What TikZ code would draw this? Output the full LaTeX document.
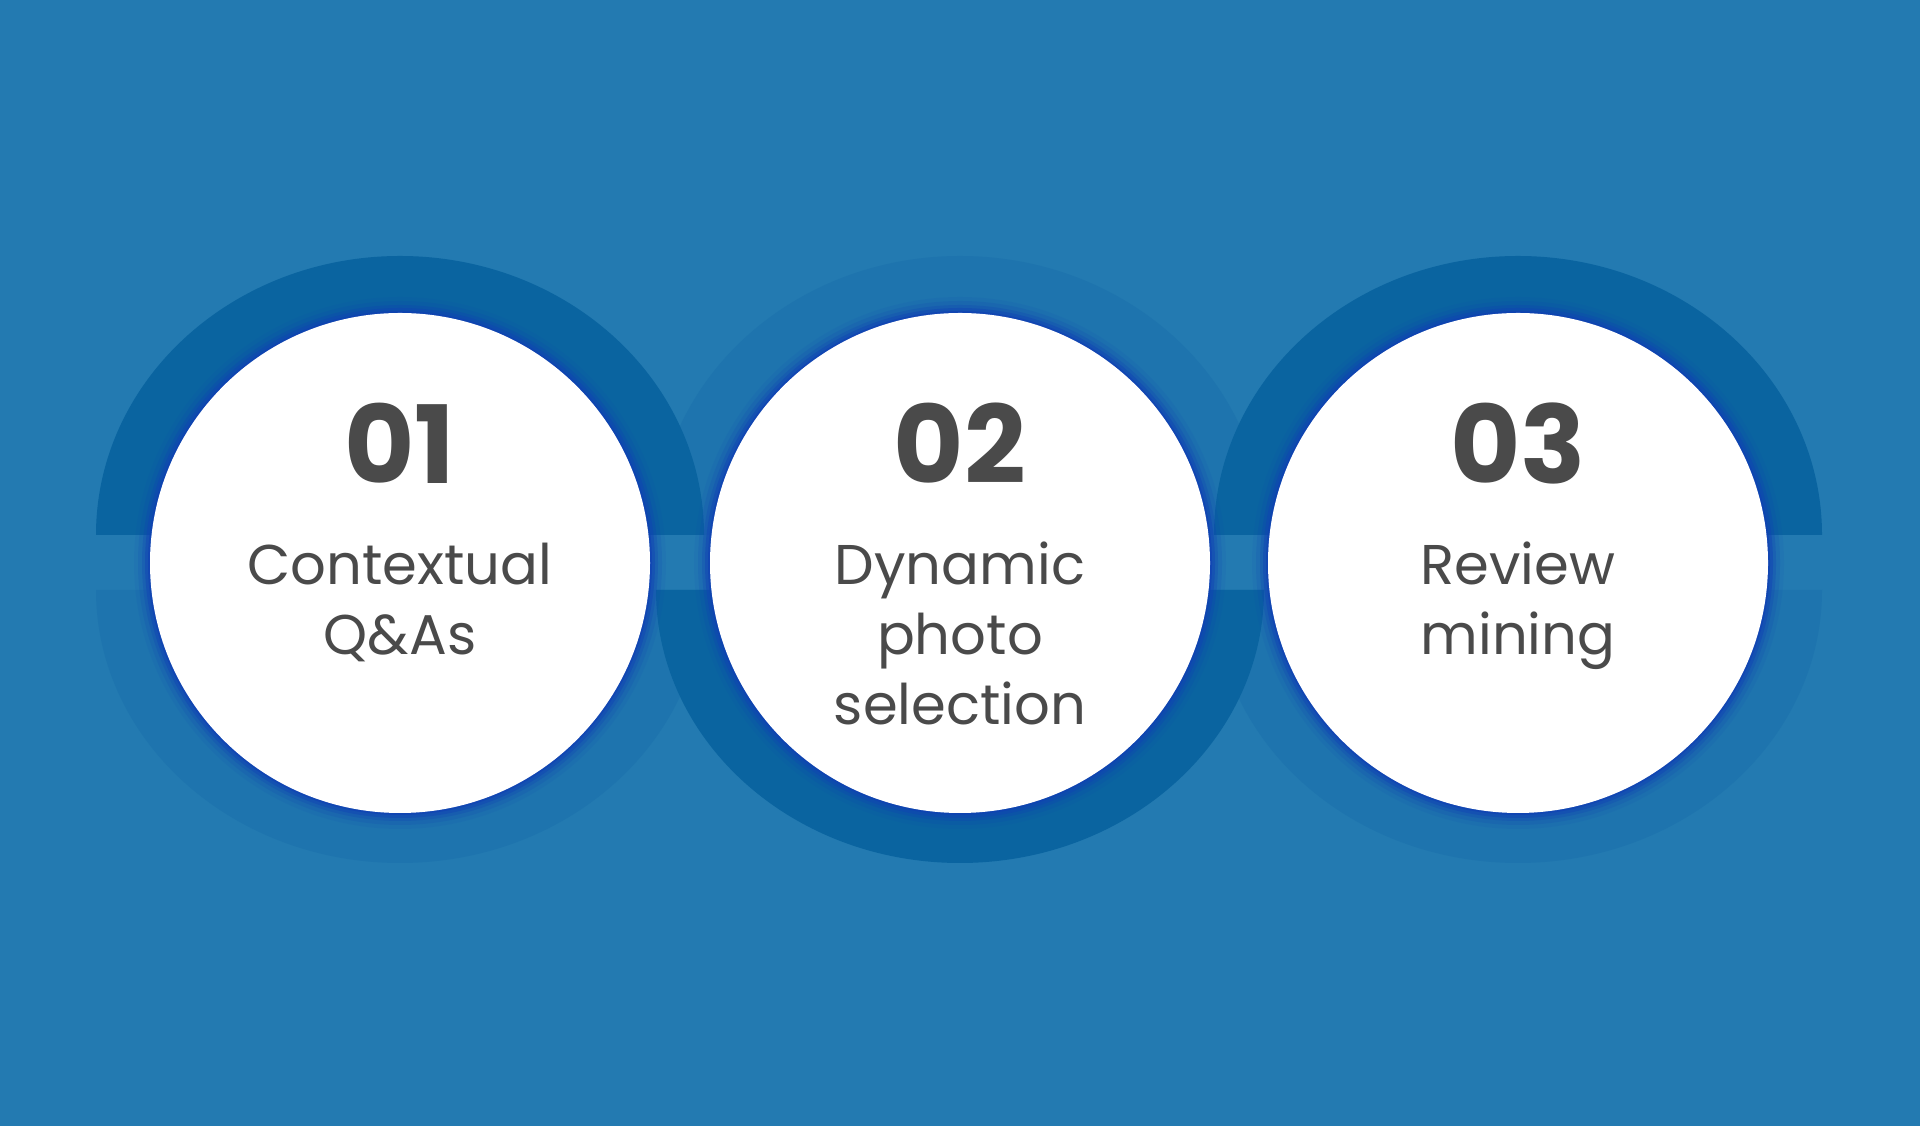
\documentclass[tikz,border=0pt]{standalone}
\usepackage{fontspec}
\setmainfont{Poppins}
\definecolor{bg}{HTML}{237AB1}
\definecolor{darkr}{HTML}{0A64A0}
\definecolor{lightr}{HTML}{1E74AE}
\definecolor{glow}{HTML}{1040B4}
\definecolor{txt}{HTML}{4A4A4A}
\tikzset{num/.style={font=\fontsize{108}{108}\selectfont\bfseries,text=txt,anchor=base},
lbl/.style={font=\fontsize{56}{70}\selectfont,text=txt,anchor=base}}
\begin{document}
\begin{tikzpicture}[x=1pt,y=1pt]
\fill[bg] (0,0) rectangle (1920,1126);
\useasboundingbox (0,0) rectangle (1920,1126);
% light halves
\foreach \cx in {400,1518}{\fill[lightr] (\cx-304,536) arc[start angle=180,end angle=360,x radius=304,y radius=273] -- cycle;}
\fill[lightr] (960-304,591) arc[start angle=180,end angle=0,x radius=304,y radius=279] -- cycle;
% dark halves
\foreach \cx in {400,1518}{\fill[darkr] (\cx-304,591) arc[start angle=180,end angle=0,x radius=304,y radius=279] -- cycle;}
\fill[darkr] (960-304,536) arc[start angle=180,end angle=360,x radius=304,y radius=273] -- cycle;
\foreach \cx/\n in {400/a,960/b,1518/c}{
  \foreach \r/\o in {266/0.08,262/0.15,258/0.25,255/0.4,252/0.6}{\fill[glow,opacity=\o] (\cx,563) circle (\r);}
  \fill[white] (\cx,563) circle (250);
}
\node[num] (n1) at (400,642) {01};
\node[num] (n2) at (960,642) {02};
\node[num] (n3) at (1518,642) {03};
\node[lbl] (l1a) at (400,541) {Contextual};
\node[lbl] (l1b) at (400,471) {Q\&As};
\node[lbl] (l2a) at (960,541) {Dynamic};
\node[lbl] (l2b) at (960,471) {photo};
\node[lbl] (l2c) at (960,401) {selection};
\node[lbl] (l3a) at (1518,541) {Review};
\node[lbl] (l3b) at (1518,471) {mining};
\end{tikzpicture}
\end{document}
